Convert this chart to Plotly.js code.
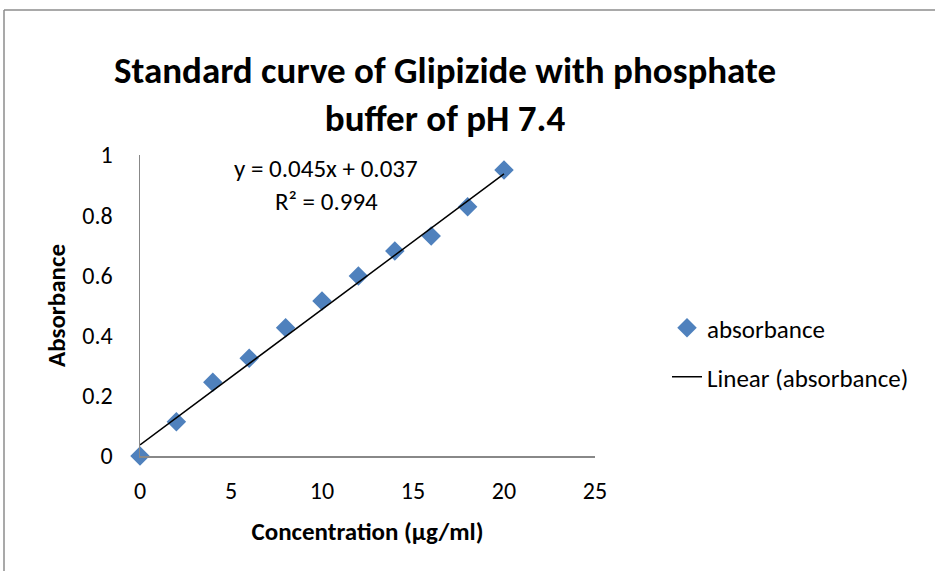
<!DOCTYPE html>
<html><head><meta charset="utf-8">
<script src="https://cdn.plot.ly/plotly-3.0.1.min.js"></script>
<style>html,body{margin:0;padding:0;background:#fff}#chart{width:935px;height:571px}</style>
</head><body><div id="chart"></div>
<script>
// Data
const concentration = [0, 2, 4, 6, 8, 10, 12, 14, 16, 18, 20];
const absorbance = [0, 0.114, 0.245, 0.325, 0.426, 0.515, 0.598, 0.681, 0.731, 0.828, 0.950];
const slope = 0.045;
const intercept = 0.037;
const rSquared = 0.994;
const xTicks = [0, 5, 10, 15, 20, 25];
const yTicks = [0, 0.2, 0.4, 0.6, 0.8, 1];
const yTickLabels = ['0', '0.2', '0.4', '0.6', '0.8', '1'];

const trendX = [concentration[0], concentration[concentration.length - 1]];
const trendY = trendX.map(x => slope * x + intercept);

const F = "Carlito, Calibri, 'Liberation Sans', sans-serif";
const FS = 25;

const traces = [
  {
    x: concentration, y: absorbance, type: 'scatter', mode: 'markers', name: 'absorbance',
    marker: {symbol: 'diamond', size: 15, color: '#4F81BD'},
    legend: 'legend', cliponaxis: false
  },
  {
    x: trendX, y: trendY, type: 'scatter', mode: 'lines', name: 'Linear (absorbance)',
    line: {color: '#000000', width: 1.5},
    legend: 'legend2'
  }
];

const layout = {
  width: 935, height: 571,
  margin: {l: 140, r: 340, t: 155, b: 115},
  paper_bgcolor: '#fff', plot_bgcolor: '#fff',
  font: {family: F, color: '#000', size: FS},
  title: {
    text: '<b>Standard curve of Glipizide with phosphate<br>buffer of pH 7.4</b>',
    font: {family: F, size: 37, color: '#000'},
    x: 445 / 935, xanchor: 'center', y: 1 - 83 / 571, yanchor: 'top'
  },
  xaxis: {
    range: [0, 25], tickvals: xTicks, ticktext: xTicks.map(String),
    showgrid: false, zeroline: false, showline: true, linecolor: '#888', linewidth: 1.5,
    ticks: '', ticklen: 0, tickfont: {family: F, size: 24}, ticklabelstandoff: 13,
    title: {text: '<b>Concentration (µg/ml)</b>', font: {family: F, size: 25}, standoff: 18}
  },
  yaxis: {
    range: [0, 1], tickvals: yTicks, ticktext: yTickLabels,
    showgrid: false, zeroline: false, showline: true, linecolor: '#888', linewidth: 1.5,
    ticks: '', tickfont: {family: F, size: 24}, ticklabelstandoff: 21,
    title: {text: '<b>Absorbance</b>', font: {family: F, size: 25}, standoff: 9}
  },
  showlegend: true,
  legend: {x: (667 - 140) / 455, y: (456 - 328) / 301, xanchor: 'left', yanchor: 'middle',
           font: {family: F, size: FS}, bgcolor: 'rgba(0,0,0,0)'},
  legend2: {x: (667 - 140) / 455, y: (456 - 377) / 301, xanchor: 'left', yanchor: 'middle',
            font: {family: F, size: FS}, bgcolor: 'rgba(0,0,0,0)'},
  annotations: [
    {xref: 'paper', yref: 'paper', x: (326 - 140) / 455, y: (456 - 168) / 301, xanchor: 'center', yanchor: 'middle',
     text: 'y = ' + slope.toFixed(3) + 'x + ' + intercept.toFixed(3), showarrow: false, font: {family: F, size: FS}},
    {xref: 'paper', yref: 'paper', x: (326 - 140) / 455, y: (456 - 201) / 301, xanchor: 'center', yanchor: 'middle',
     text: 'R² = ' + rSquared.toFixed(3), showarrow: false, font: {family: F, size: FS}}
  ],
  shapes: [
    {type: 'line', xref: 'paper', yref: 'paper', x0: (4 - 140) / 455, x1: (940 - 140) / 455,
     y0: (456 - 10) / 301, y1: (456 - 10) / 301, line: {color: '#8c8c8c', width: 1.5}},
    {type: 'line', xref: 'paper', yref: 'paper', x0: (4 - 140) / 455, x1: (4 - 140) / 455,
     y0: (456 - 10) / 301, y1: (456 - 580) / 301, line: {color: '#8c8c8c', width: 1.5}}
  ]
};

Plotly.newPlot('chart', traces, layout, {displayModeBar: false, staticPlot: true});
</script></body></html>
